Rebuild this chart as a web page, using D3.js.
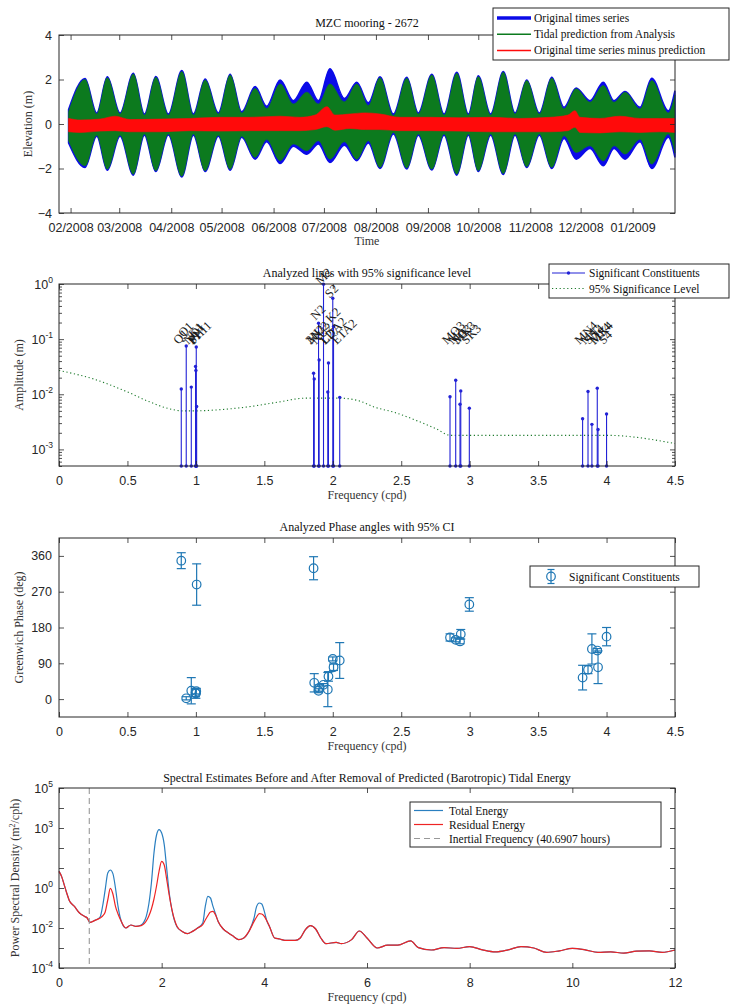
<!DOCTYPE html>
<html>
<head>
<meta charset="utf-8">
<script src="https://cdnjs.cloudflare.com/ajax/libs/d3/7.8.5/d3.min.js"></script>
<style>
  body { margin: 0; background: #fff; }
</style>
</head>
<body>
<script>
//---------------- data ----------------

// Panel 1: envelope of the tidal signal (days since 2008-02-01, metres)
let envDays = [-1.2, 8.6, 15.6, 21.9, 29.5, 37.4, 44.0, 50.8, 58.3, 66.3, 73.2, 80.2, 88.1, 95.1, 102.0, 110.0, 116.9, 124.9, 132.8, 140.8, 147.7, 154.6, 163.2, 170.6, 177.5, 184.4, 192.4, 200.4, 207.3, 215.3, 222.6, 230.2, 237.1, 243.0, 250.4, 257.9, 264.9, 271.9, 279.4, 286.8, 294.1, 301.3, 309.6, 317.5, 323.9, 330.5, 339.4, 346.4, 356.3, 360.2];
let predHigh = [0.55, 2.0, 0.45, 2.08, 0.45, 2.25, 0.4, 2.1, 0.4, 2.36, 0.4, 1.98, 0.45, 2.2, 0.5, 1.6, 0.7, 1.8, 0.9, 1.43, 0.9, 1.8, 1.0, 1.8, 0.83, 2.08, 0.38, 2.06, 0.45, 2.2, 0.4, 2.28, 0.4, 2.13, 0.4, 2.33, 0.45, 1.95, 0.45, 2.06, 0.68, 1.58, 0.98, 1.73, 0.98, 1.43, 0.68, 1.95, 0.5, 1.3];
let predLow = [-0.75, -1.88, -0.5, -2.03, -0.5, -2.26, -0.45, -2.1, -0.45, -2.35, -0.45, -2.1, -0.5, -2.03, -0.55, -1.5, -0.7, -1.65, -0.9, -1.2, -0.75, -1.58, -0.8, -1.58, -0.75, -1.95, -0.38, -1.98, -0.45, -2.03, -0.45, -2.26, -0.45, -2.1, -0.45, -2.23, -0.45, -1.92, -0.45, -1.95, -0.53, -1.28, -0.98, -1.66, -0.98, -1.35, -0.68, -1.8, -0.45, -1.3];
let obsHigh = [0.65, 2.05, 0.5, 2.12, 0.5, 2.28, 0.45, 2.13, 0.45, 2.4, 0.45, 2.02, 0.5, 2.24, 0.55, 1.68, 0.8, 1.98, 1.05, 1.88, 1.05, 2.48, 1.15, 1.88, 0.95, 2.12, 0.45, 2.1, 0.5, 2.24, 0.45, 2.33, 0.45, 2.17, 0.45, 2.36, 0.5, 1.98, 0.5, 2.1, 0.75, 1.62, 1.05, 1.88, 1.05, 1.46, 0.75, 2.06, 0.6, 1.5];
let obsLow = [-0.85, -1.95, -0.55, -2.08, -0.55, -2.3, -0.5, -2.14, -0.5, -2.38, -0.5, -2.13, -0.55, -2.08, -0.6, -1.58, -0.8, -1.78, -1.0, -1.36, -0.9, -1.73, -0.95, -1.65, -0.85, -2.0, -0.45, -2.02, -0.5, -2.07, -0.5, -2.3, -0.5, -2.14, -0.5, -2.27, -0.5, -1.96, -0.5, -2.0, -0.65, -1.58, -1.1, -1.88, -1.1, -1.58, -0.8, -2.0, -0.6, -1.5];
let resDays = [-1.2, 5.7, 17.6, 26.5, 35.5, 53.3, 71.2, 89.1, 106.9, 124.8, 136.7, 145.7, 152.8, 157.6, 166.5, 175.5, 184.4, 196.3, 214.2, 232.1, 250.0, 267.8, 285.7, 296.4, 300.6, 303.6, 315.5, 327.4, 339.3, 351.2, 360.2];
let resHigh = [0.25, 0.18, 0.22, 0.35, 0.2, 0.22, 0.25, 0.3, 0.3, 0.35, 0.3, 0.4, 0.78, 0.4, 0.45, 0.5, 0.45, 0.3, 0.3, 0.28, 0.3, 0.25, 0.3, 0.4, 0.6, 0.3, 0.25, 0.35, 0.25, 0.25, 0.25];
let resLow = [-0.35, -0.38, -0.32, -0.3, -0.35, -0.35, -0.3, -0.32, -0.3, -0.3, -0.3, -0.25, -0.12, -0.28, -0.2, -0.25, -0.25, -0.3, -0.3, -0.32, -0.35, -0.35, -0.35, -0.3, -0.15, -0.38, -0.4, -0.35, -0.38, -0.35, -0.38];

// Panels 2 and 3: constituents
let constNames = ["Q1", "O1", "NO1", "P1", "S1", "K1", "PHI1", "2N2", "MU2", "N2", "NU2", "M2", "LDA2", "L2", "S2", "K2", "ETA2", "MO3", "M3", "SO3", "MK3", "SK3", "MN4", "M4", "SN4", "MS4", "MK4", "S4"];
let constFreq = [0.8932, 0.9295, 0.9664, 0.9973, 1.0000, 1.0027, 1.0055, 1.8597, 1.8645, 1.8960, 1.9002, 1.9323, 1.9637, 1.9685, 2.0000, 2.0055, 2.0507, 2.8564, 2.8980, 2.9295, 2.9350, 2.9975, 3.825, 3.8645, 3.893, 3.9322, 3.9377, 4.0000];
let constAmp = [0.0125, 0.075, 0.0135, 0.032, 0.027, 0.072, 0.006, 0.024, 0.019, 0.195, 0.042, 0.99, 0.011, 0.037, 0.55, 0.17, 0.0088, 0.009, 0.018, 0.0066, 0.0115, 0.0056, 0.0036, 0.0112, 0.00285, 0.0129, 0.0023, 0.0044];
let constPhase = [348, 2, 21, 16, 14, 20, 288, 329, 41, 21, 28, 36, 24, 57, 101, 80, 97, 155, 149, 145, 163, 238, 54, 74, 126, 122, 80, 157];
let constPhaseErr = [20, 4, 33, 10, 12, 7, 52, 29, 23, 5, 8, 3, 43, 12, 5, 8, 45, 9, 5, 6, 12, 17, 31, 10, 38, 5, 41, 23];
let sigFreq = [0, 0.25, 0.5, 0.65, 0.8, 0.9, 1.0, 1.15, 1.4, 1.6, 1.8, 2.05, 2.2, 2.3, 2.45, 2.63, 2.75, 2.86, 4.0, 4.5];
let sigLevel = [0.027, 0.019, 0.011, 0.0075, 0.0055, 0.005, 0.005, 0.0052, 0.006, 0.0072, 0.0085, 0.0085, 0.0075, 0.0059, 0.0047, 0.0032, 0.0024, 0.0018, 0.0018, 0.00128];

// Panel 4: spectra (cpd, log10 of m^2/cph)
let specFreq = [0, 0.05, 0.1, 0.15, 0.2, 0.3, 0.4, 0.5, 0.55, 0.6, 0.7, 0.8, 0.85, 0.9, 0.95, 1.0, 1.05, 1.1, 1.15, 1.2, 1.3, 1.4, 1.5, 1.6, 1.65, 1.7, 1.75, 1.8, 1.85, 1.9, 1.95, 2.0, 2.05, 2.1, 2.15, 2.2, 2.3, 2.4, 2.5, 2.6, 2.7, 2.8, 2.85, 2.9, 2.95, 3.0, 3.05, 3.1, 3.2, 3.3, 3.4, 3.5, 3.6, 3.7, 3.8, 3.85, 3.9, 3.95, 4.0, 4.05, 4.1, 4.2, 4.3, 4.4, 4.6, 4.7, 4.8, 4.9, 5.0, 5.1, 5.2, 5.4, 5.5, 5.7, 5.85, 6.0, 6.2, 6.4, 6.6, 6.85, 7.0, 7.25, 7.5, 7.75, 8.0, 8.25, 8.5, 8.75, 9.0, 9.25, 9.5, 9.75, 10.0, 10.25, 10.5, 10.75, 11.0, 11.25, 11.5, 11.75, 12.0];
let specTotalLog = [0.83, 0.58, 0.17, -0.25, -0.62, -0.92, -1.25, -1.42, -1.5, -1.72, -1.62, -1.45, -0.9, -0.08, 0.75, 0.9, 0.72, 0.0, -0.92, -1.55, -2.0, -1.85, -1.92, -1.85, -1.72, -1.42, -0.8, 0.25, 1.75, 2.65, 2.92, 2.75, 2.17, 0.92, -0.3, -1.1, -1.95, -2.17, -2.28, -2.17, -2.0, -1.75, -0.92, -0.42, -0.5, -0.92, -1.3, -1.67, -2.05, -2.25, -2.42, -2.58, -2.5, -2.17, -1.5, -0.92, -0.75, -0.8, -1.17, -1.65, -1.92, -2.5, -2.55, -2.62, -2.62, -2.5, -2.08, -1.88, -2.05, -2.5, -2.78, -2.72, -2.78, -2.58, -2.15, -2.5, -3.0, -2.86, -2.86, -2.64, -2.98, -3.1, -2.98, -3.02, -2.93, -3.09, -3.19, -3.09, -2.93, -3.0, -3.22, -3.14, -3.02, -3.09, -3.22, -3.19, -3.26, -3.16, -3.14, -3.22, -3.1];
let specResidLog = [0.83, 0.58, 0.17, -0.25, -0.62, -0.92, -1.25, -1.42, -1.5, -1.72, -1.62, -1.5, -1.4, -1.2, -0.6, -0.02, -0.3, -0.92, -1.3, -1.6, -2.0, -1.85, -1.92, -1.88, -1.8, -1.65, -1.4, -1.05, -0.55, 0.1, 0.85, 1.33, 1.15, 0.4, -0.4, -1.08, -1.92, -2.17, -2.28, -2.17, -2.0, -1.83, -1.6, -1.38, -1.2, -1.17, -1.35, -1.67, -2.05, -2.25, -2.42, -2.58, -2.5, -2.17, -1.67, -1.45, -1.28, -1.3, -1.42, -1.65, -1.92, -2.5, -2.55, -2.62, -2.62, -2.5, -2.08, -1.88, -2.05, -2.5, -2.78, -2.72, -2.78, -2.58, -2.15, -2.5, -3.0, -2.86, -2.86, -2.64, -2.98, -3.1, -2.98, -3.02, -2.93, -3.09, -3.19, -3.09, -2.93, -3.0, -3.22, -3.14, -3.02, -3.09, -3.22, -3.19, -3.26, -3.16, -3.14, -3.22, -3.1];
let inertialHours = 40.6907;

//---------------- layout ----------------
let fullSVGWidth = 731;
let fullSVGHeight = 1006;
let plotLeft = 59, plotRight = 675;
let serif = "'Liberation Serif', 'Times New Roman', serif";
let sans = "'Liberation Sans', Arial, Helvetica, sans-serif";
let axisColor = "#262626";

let svg = d3.select("body")
    .append("svg")
    .attr("width", fullSVGWidth)
    .attr("height", fullSVGHeight);

// MATLAB style box with inward ticks on all four sides
function frame(x, y, xTicks, xFormat, yTicks, yFormat, yMinor) {
    let top = y.range()[1], bottom = y.range()[0];
    let g = svg.append("g");
    let blank = () => "";
    g.append("g").attr("transform", "translate(0," + bottom + ")")
        .call(d3.axisBottom(x).tickValues(xTicks).tickFormat(xFormat).tickSizeInner(-5).tickSizeOuter(0).tickPadding(10));
    g.append("g").attr("transform", "translate(0," + top + ")")
        .call(d3.axisTop(x).tickValues(xTicks).tickFormat(blank).tickSizeInner(-5).tickSizeOuter(0));
    g.append("g").attr("transform", "translate(" + plotLeft + ",0)")
        .call(d3.axisLeft(y).tickValues(yTicks).tickFormat(yFormat || blank).tickSizeInner(-5).tickSizeOuter(0).tickPadding(7));
    g.append("g").attr("transform", "translate(" + plotRight + ",0)")
        .call(d3.axisRight(y).tickValues(yTicks).tickFormat(blank).tickSizeInner(-5).tickSizeOuter(0));
    if (yMinor) {
        g.append("g").attr("transform", "translate(" + plotLeft + ",0)")
            .call(d3.axisLeft(y).tickValues(yMinor).tickFormat(blank).tickSizeInner(-3).tickSizeOuter(0));
        g.append("g").attr("transform", "translate(" + plotRight + ",0)")
            .call(d3.axisRight(y).tickValues(yMinor).tickFormat(blank).tickSizeInner(-3).tickSizeOuter(0));
    }
    g.selectAll(".domain").remove();
    g.selectAll(".tick line").attr("stroke", axisColor).attr("stroke-width", 0.8);
    g.selectAll(".tick text")
        .attr("font-family", sans)
        .attr("font-size", 12.5)
        .attr("fill", axisColor);
    g.append("rect")
        .attr("x", plotLeft).attr("y", top)
        .attr("width", plotRight - plotLeft).attr("height", bottom - top)
        .attr("fill", "none").attr("stroke", axisColor).attr("stroke-width", 1);
    return g;
}

// 10^k labels on a log axis
function logLabels(y, exps) {
    exps.forEach(function(k) {
        let t = svg.append("text")
            .attr("x", plotLeft - 6)
            .attr("y", y(Math.pow(10, k)) + 5)
            .attr("text-anchor", "end")
            .attr("font-family", sans)
            .attr("font-size", 12.5)
            .attr("fill", axisColor);
        t.append("tspan").text("10");
        t.append("tspan").attr("dy", -6).attr("font-size", 8.5).text(k);
    });
}

function title(txt, top) {
    svg.append("text")
        .attr("x", (plotLeft + plotRight) / 2)
        .attr("y", top - 11)
        .attr("dy", "0.35em")
        .attr("text-anchor", "middle")
        .attr("font-family", serif)
        .attr("font-size", 12)
        .attr("fill", "#111")
        .text(txt);
}

function xLabel(txt, bottom) {
    svg.append("text")
        .attr("x", (plotLeft + plotRight) / 2)
        .attr("y", bottom + 29)
        .attr("dy", "0.35em")
        .attr("text-anchor", "middle")
        .attr("font-family", serif)
        .attr("font-size", 12)
        .attr("fill", "#333")
        .text(txt);
}

function yLabel(txt, xPos, top, bottom) {
    return svg.append("text")
        .attr("transform", "translate(" + xPos + "," + (top + bottom) / 2 + ") rotate(-90)")
        .attr("dy", "0.35em")
        .attr("text-anchor", "middle")
        .attr("font-family", serif)
        .attr("font-size", 12)
        .attr("fill", "#333")
        .text(txt);
}

function legendBox(x0, y0, x1, y1) {
    svg.append("rect")
        .attr("x", x0).attr("y", y0)
        .attr("width", x1 - x0).attr("height", y1 - y0)
        .attr("fill", "#fff").attr("stroke", axisColor).attr("stroke-width", 1);
}

function legendText(txt, x, y) {
    svg.append("text")
        .attr("x", x).attr("y", y)
        .attr("dy", "0.35em")
        .attr("font-family", serif)
        .attr("font-size", 11.5)
        .attr("fill", "#111")
        .text(txt);
}

//---------------- panel 1: time series ----------------
let p1Top = 35, p1Bottom = 213;
let day0 = Date.UTC(2008, 1, 1);
let toDate = d => new Date(day0 + d * 864e5);

let x1 = d3.scaleUtc()
    .domain([toDate(-6.9), toDate(360.25)])
    .range([plotLeft, plotRight]);
let y1 = d3.scaleLinear().domain([-4, 4]).range([p1Bottom, p1Top]);

let envData = envDays.map((d, i) => ({ t: toDate(d), ph: predHigh[i], pl: predLow[i], oh: obsHigh[i], ol: obsLow[i] }));
let resData = resDays.map((d, i) => ({ t: toDate(d), h: resHigh[i], l: resLow[i] }));

let obsArea = d3.area().x(d => x1(d.t)).y0(d => y1(d.ol)).y1(d => y1(d.oh)).curve(d3.curveMonotoneX);
let predArea = d3.area().x(d => x1(d.t)).y0(d => y1(d.pl)).y1(d => y1(d.ph)).curve(d3.curveMonotoneX);
let resArea = d3.area().x(d => x1(d.t)).y0(d => y1(d.l)).y1(d => y1(d.h)).curve(d3.curveMonotoneX);

svg.append("path").datum(envData).attr("d", obsArea)
    .attr("fill", "#0b0be8").attr("stroke", "#0b0be8").attr("stroke-width", 1.5);
svg.append("path").datum(envData).attr("d", predArea)
    .attr("fill", "#0c7a1e").attr("stroke", "#0c7a1e").attr("stroke-width", 0.6);
svg.append("path").datum(resData).attr("d", resArea)
    .attr("fill", "#ff0a0a").attr("stroke", "#ff0a0a").attr("stroke-width", 0.6);

let monthTicks = d3.utcMonth.range(new Date(Date.UTC(2008, 1, 1)), new Date(Date.UTC(2009, 0, 2)));
frame(x1, y1, monthTicks, d3.utcFormat("%m/%Y"), [-4, -2, 0, 2, 4], d3.format("d"));
title("MZC mooring - 2672", p1Top - 1);
xLabel("Time", p1Bottom - 1);
yLabel("Elevation (m)", 28, p1Top, p1Bottom);

legendBox(493, 8, 729, 60);
let p1Legend = [
    { txt: "Original times series", color: "#0b0be8", w: 3.5 },
    { txt: "Tidal prediction from Analysis", color: "#0c7a1e", w: 1.5 },
    { txt: "Original time series minus prediction", color: "#ff0a0a", w: 1.5 }
];
p1Legend.forEach(function(d, i) {
    let yy = 18 + i * 16.2;
    svg.append("line").attr("x1", 497).attr("x2", 531).attr("y1", yy).attr("y2", yy)
        .attr("stroke", d.color).attr("stroke-width", d.w);
    legendText(d.txt, 534, yy);
});

//---------------- panel 2: amplitudes ----------------
let p2Top = 284, p2Bottom = 466;
let xF = d3.scaleLinear().domain([0, 4.5]).range([plotLeft, plotRight]);
let y2 = d3.scaleLog().domain([5e-4, 1]).range([p2Bottom, p2Top]);
let stemColor = "#2222d6";

// significance level
svg.append("path")
    .datum(sigFreq.map((f, i) => [f, sigLevel[i]]))
    .attr("d", d3.line().x(d => xF(d[0])).y(d => y2(d[1])).curve(d3.curveMonotoneX))
    .attr("fill", "none")
    .attr("stroke", "#1d7a2c")
    .attr("stroke-width", 1.1)
    .attr("stroke-dasharray", "1.2,2.6");

let consts = constNames.map((n, i) => ({ name: n, f: constFreq[i], amp: constAmp[i], ph: constPhase[i], err: constPhaseErr[i] }));

svg.selectAll(".stem").data(consts).enter().append("line")
    .attr("class", "stem")
    .attr("x1", d => xF(d.f)).attr("x2", d => xF(d.f))
    .attr("y1", d => y2(d.amp)).attr("y2", p2Bottom)
    .attr("stroke", stemColor).attr("stroke-width", 1.1);
svg.selectAll(".stemTop").data(consts).enter().append("circle")
    .attr("cx", d => xF(d.f)).attr("cy", d => y2(d.amp)).attr("r", 1.7)
    .attr("fill", stemColor);
svg.selectAll(".stemBase").data(consts).enter().append("circle")
    .attr("cx", d => xF(d.f)).attr("cy", p2Bottom).attr("r", 1.7)
    .attr("fill", stemColor);

// constituent names, rotated, a little above each line
svg.selectAll(".constLabel").data(consts).enter().append("text")
    .attr("transform", d => "translate(" + (xF(d.f) - 3) + "," + (y2(Math.max(d.amp + 0.04, 0.085)) + 2) + ") rotate(-45)")
    .attr("font-family", serif)
    .attr("font-size", 12.5)
    .attr("fill", "#1a1a1a")
    .text(d => d.name);

let minor2 = [];
[-4, -3, -2, -1].forEach(function(k) {
    for (let m = 2; m <= 9; m++) {
        let v = m * Math.pow(10, k);
        if (v >= 5e-4 && v <= 1) minor2.push(v);
    }
});
frame(xF, y2, d3.range(0, 4.51, 0.5), d3.format("~g"), [1e-3, 1e-2, 1e-1, 1], null, minor2);
logLabels(y2, [0, -1, -2, -3]);
title("Analyzed lines with 95% significance level", p2Top);
xLabel("Frequency (cpd)", p2Bottom);
yLabel("Amplitude (m)", 19, p2Top, p2Bottom);

legendBox(549, 264, 729, 298);
svg.append("line").attr("x1", 552).attr("x2", 585).attr("y1", 273).attr("y2", 273)
    .attr("stroke", stemColor).attr("stroke-width", 1.2);
svg.append("circle").attr("cx", 568.5).attr("cy", 273).attr("r", 1.7).attr("fill", stemColor);
legendText("Significant Constituents", 589, 273);
svg.append("line").attr("x1", 552).attr("x2", 585).attr("y1", 288.5).attr("y2", 288.5)
    .attr("stroke", "#1d7a2c").attr("stroke-width", 1.1).attr("stroke-dasharray", "1.2,2.6");
legendText("95% Significance Level", 589, 288.5);

//---------------- panel 3: phases ----------------
let p3Top = 538, p3Bottom = 717;
let y3 = d3.scaleLinear().domain([-45, 405]).range([p3Bottom, p3Top]);
let phaseColor = "#1f77b4";
let cap = 4.5;

let eb = svg.selectAll(".eb").data(consts).enter().append("g");
eb.append("line")
    .attr("x1", d => xF(d.f)).attr("x2", d => xF(d.f))
    .attr("y1", d => y3(d.ph - d.err)).attr("y2", d => y3(d.ph + d.err));
eb.append("line")
    .attr("x1", d => xF(d.f) - cap).attr("x2", d => xF(d.f) + cap)
    .attr("y1", d => y3(d.ph - d.err)).attr("y2", d => y3(d.ph - d.err));
eb.append("line")
    .attr("x1", d => xF(d.f) - cap).attr("x2", d => xF(d.f) + cap)
    .attr("y1", d => y3(d.ph + d.err)).attr("y2", d => y3(d.ph + d.err));
eb.append("circle")
    .attr("cx", d => xF(d.f)).attr("cy", d => y3(d.ph)).attr("r", 4.3)
    .attr("fill", "none");
eb.selectAll("line, circle").attr("stroke", phaseColor).attr("stroke-width", 1.2);

frame(xF, y3, d3.range(0, 4.51, 0.5), d3.format("~g"), [0, 90, 180, 270, 360], d3.format("d"));
title("Analyzed Phase angles with 95% CI", p3Top);
xLabel("Frequency (cpd)", p3Bottom);
yLabel("Greenwich Phase (deg)", 19, p3Top, p3Bottom);

legendBox(530, 566, 699, 587);
let glyph = svg.append("g")
    .attr("stroke", phaseColor).attr("stroke-width", 1.2).attr("fill", "none");
glyph.append("line").attr("x1", 551).attr("x2", 551).attr("y1", 569.5).attr("y2", 583.5);
glyph.append("line").attr("x1", 547.5).attr("x2", 554.5).attr("y1", 569.5).attr("y2", 569.5);
glyph.append("line").attr("x1", 547.5).attr("x2", 554.5).attr("y1", 583.5).attr("y2", 583.5);
glyph.append("circle").attr("cx", 551).attr("cy", 576.5).attr("r", 4.3);
legendText("Significant Constituents", 569, 576.5);

//---------------- panel 4: spectra ----------------
let p4Top = 788, p4Bottom = 968;
let x4 = d3.scaleLinear().domain([0, 12]).range([plotLeft, plotRight]);
let y4 = d3.scaleLog().domain([1e-4, 1e5]).range([p4Bottom, p4Top]);
let inertialCpd = 24 / inertialHours;

let specLine = d3.line()
    .x(d => x4(d[0]))
    .y(d => y4(Math.pow(10, d[1])))
    .curve(d3.curveMonotoneX);

svg.append("path")
    .datum(specFreq.map((f, i) => [f, specTotalLog[i]]))
    .attr("d", specLine)
    .attr("fill", "none").attr("stroke", "#2a7fc0").attr("stroke-width", 1.2);
svg.append("path")
    .datum(specFreq.map((f, i) => [f, specResidLog[i]]))
    .attr("d", specLine)
    .attr("fill", "none").attr("stroke", "#ee2424").attr("stroke-width", 1.2);
svg.append("line")
    .attr("x1", x4(inertialCpd)).attr("x2", x4(inertialCpd))
    .attr("y1", p4Top).attr("y2", p4Bottom)
    .attr("stroke", "#999").attr("stroke-width", 1.1).attr("stroke-dasharray", "6,4");

frame(x4, y4, d3.range(0, 12.1, 2), d3.format("d"), d3.range(-4, 6).map(k => Math.pow(10, k)), null);
logLabels(y4, [5, 3, 0, -2, -4]);
title("Spectral Estimates Before and After Removal of Predicted (Barotropic) Tidal Energy", p4Top + 1);
xLabel("Frequency (cpd)", p4Bottom);
let psd = yLabel("", 15, p4Top, p4Bottom);
psd.append("tspan").text("Power Spectral Density (m");
psd.append("tspan").attr("dy", -4).attr("font-size", 8).text("2");
psd.append("tspan").attr("dy", 4).text("/cph)");

legendBox(410, 802, 661, 847);
let p4Legend = [
    { txt: "Total Energy", color: "#2a7fc0", dash: null },
    { txt: "Residual Energy", color: "#ee2424", dash: null },
    { txt: "Inertial Frequency (" + inertialHours + " hours)", color: "#999", dash: "6,4" }
];
p4Legend.forEach(function(d, i) {
    let yy = 810.5 + i * 14;
    svg.append("line").attr("x1", 414).attr("x2", 443).attr("y1", yy).attr("y2", yy)
        .attr("stroke", d.color).attr("stroke-width", 1.2).attr("stroke-dasharray", d.dash);
    legendText(d.txt, 449, yy);
});
</script>
</body>
</html>
